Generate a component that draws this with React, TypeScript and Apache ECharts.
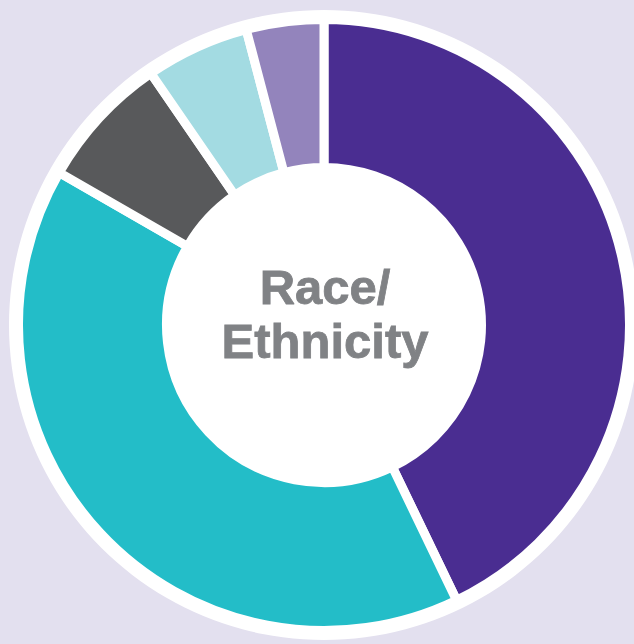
import React, { useEffect, useRef } from "react";
import * as echarts from "echarts";

const categories = ["Group A", "Group B", "Group C", "Group D", "Group E"];
const shares = [42.9, 40.5, 7.1, 5.5, 4.1];
const colors = ["#4A2D91", "#23BDC8", "#58595B", "#A3DBE2", "#9384BC"];
const centerTitle = "Race/\nEthnicity";

export default function App() {
  const ref = useRef<HTMLDivElement>(null);
  useEffect(() => {
    if (!ref.current) return;
    const chart = echarts.init(ref.current, null, { renderer: "svg" });
    chart.setOption({
      animation: false,
      backgroundColor: "#E3E0EF",
      tooltip: { show: false },
      series: [
        {
          type: "pie",
          silent: true,
          center: [324, 325],
          radius: [0, 315],
          z: 1,
          label: { show: false },
          labelLine: { show: false },
          itemStyle: { color: "#FFFFFF" },
          data: [{ name: "bg", value: 1 }],
        },
        {
          type: "pie",
          center: [324, 325],
          radius: [157.5, 305.5],
          startAngle: 90,
          clockwise: true,
          z: 2,
          label: { show: false },
          labelLine: { show: false },
          itemStyle: { borderColor: "#FFFFFF", borderWidth: 9 },
          data: categories.map((n, i) => ({
            name: n,
            value: shares[i],
            itemStyle: { color: colors[i] },
          })),
        },
      ],
      graphic: [
        {
          type: "text",
          x: 325,
          y: 314,
          z: 10,
          style: {
            text: centerTitle,
            fill: "#808285",
            stroke: "#808285",
            lineWidth: 0.8,
            font: "bold 49px 'Liberation Sans', Arial, sans-serif",
            lineHeight: 54,
            align: "center",
            verticalAlign: "middle",
          },
        },
      ],
    });
    return () => chart.dispose();
  }, []);
  return (
    <div style={{ position: "fixed", left: 0, top: 0, width: 634, height: 644, margin: 0 }}>
      <div ref={ref} style={{ width: 634, height: 644 }} />
    </div>
  );
}
